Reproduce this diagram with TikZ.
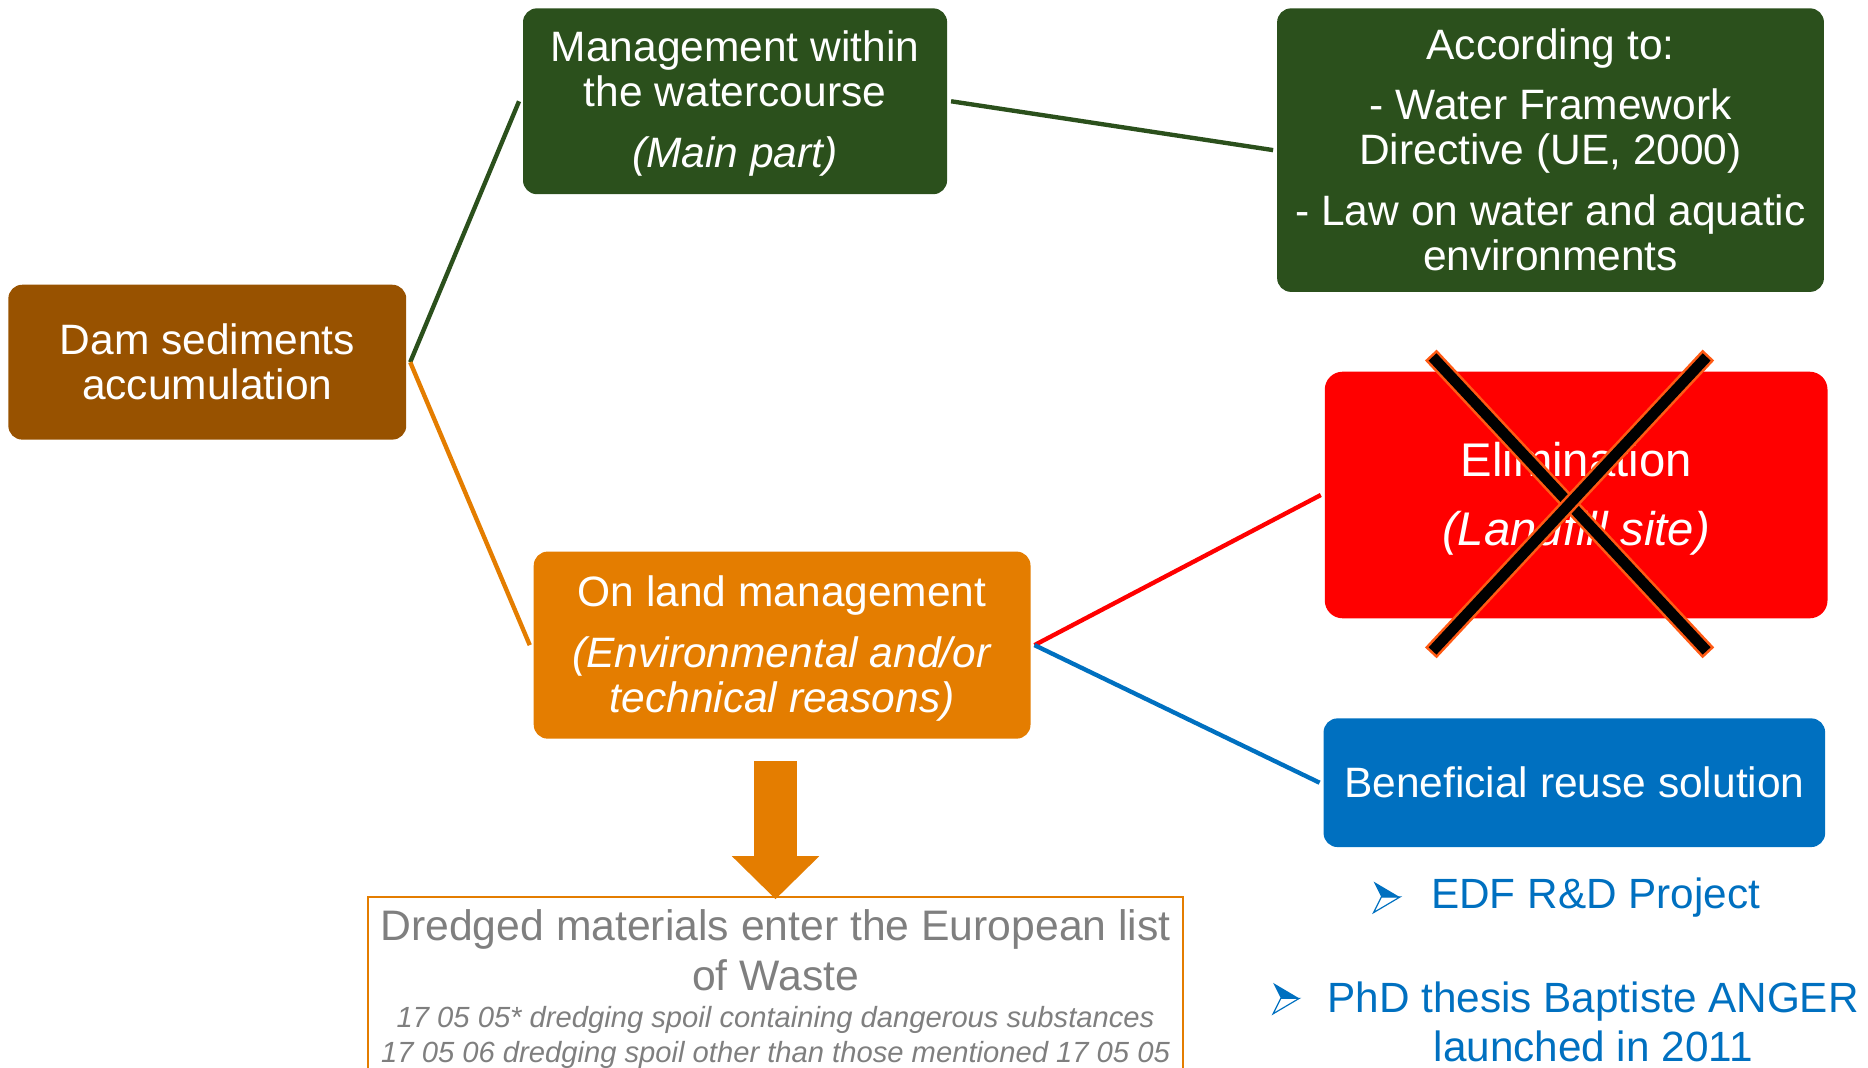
\documentclass[tikz,border=0pt]{standalone}
\usepackage{fontspec}
\setmainfont{Liberation Sans}
\usetikzlibrary{arrows.meta}

\definecolor{damBrown}{RGB}{152,82,0}
\definecolor{riverGreen}{RGB}{43,80,28}
\definecolor{landOrange}{RGB}{228,125,0}
\definecolor{elimRed}{RGB}{255,0,0}
\definecolor{reuseBlue}{RGB}{0,112,192}
\definecolor{crossOrange}{RGB}{255,90,20}
\definecolor{wasteGrey}{RGB}{127,127,127}

\tikzset{
  box/.style={rectangle, rounded corners=7pt, align=center, text=white, inner sep=0pt, outer sep=2pt, font=\fontsize{21.4}{22.8}\selectfont},
  link/.style={line width=2.2pt},
  crossbar/.style={crossOrange, line width=8pt},
  crosscore/.style={black, line width=5.4pt, shorten <=1.3pt, shorten >=1.3pt},
  bulletarrow/.pic={
    \fill [reuseBlue] (-11,13) -- (11,0) -- (-4.5,0) -- cycle;
    \draw [reuseBlue, line width=0.6pt, line join=miter] (-11,-13) -- (11,0) -- (-4.5,0) -- cycle;
  }
}

\begin{document}
\begin{tikzpicture}[x=0.6pt,y=0.6pt,yscale=-1,xscale=1]
\useasboundingbox (0,0) rectangle (1568,896);
\clip (0,0) rectangle (1568,896);

%Rounded Rect: origin of the sediments
\node (dam) at (174,304) [box, fill=damBrown, minimum width=200.4pt, minimum height=78pt] {Dam sediments\\accumulation};
%Rounded Rect: in the river
\node (mgmt) at (617,85) [box, fill=riverGreen, text depth=2.2pt, minimum width=213.6pt, minimum height=93.6pt] {Management within\\the watercourse\\[7.8pt]\textit{(Main part)}};
%Rounded Rect: regulations
\node (law) at (1301.5,126) [box, fill=riverGreen, minimum width=275.4pt, minimum height=142.8pt] {According to:\\[7.2pt]- Water Framework\\Directive (UE, 2000)\\[7.8pt]- Law on water and aquatic\\environments};
%Rounded Rect: on land
\node (land) at (656.5,541.5) [box, fill=landOrange, text depth=0.8pt, minimum width=250.2pt, minimum height=94.2pt] {On land management\\[7.8pt]\textit{(Environmental and/or}\\\textit{technical reasons)}};
%Rounded Rect: landfill
\node (elim) at (1323,415.5) [box, fill=elimRed, text depth=0.8pt, rounded corners=9pt, minimum width=253.2pt, minimum height=124.2pt, font=\fontsize{23.8}{34.8}\selectfont] {Elimination\\\textit{(Landfill site)}};
%Rounded Rect: reuse
\node (reuse) at (1321.5,657) [box, fill=reuseBlue, minimum width=252.6pt, minimum height=64.8pt] {Beneficial reuse solution};
%Rectangle: waste list
\node (waste) at (651,752) [anchor=north, draw=landOrange, line width=0.85pt, minimum width=410.4pt, inner xsep=0pt, inner ysep=6.6pt, align=center, text=wasteGrey, font=\fontsize{21.5}{25.2}\selectfont] {Dredged materials enter the European list\\of Waste\\[-6.6pt]{\fontsize{14.7}{17.4}\selectfont\itshape 17 05 05* dredging spoil containing dangerous substances}\\[-7.8pt]{\fontsize{14.7}{17.4}\selectfont\itshape 17 05 06 dredging spoil other than those mentioned 17 05 05}};

%Straight Lines
\draw [link, riverGreen] (dam.east) -- (mgmt.west);
\draw [link, landOrange] (dam.east) -- (land.west);
\draw [link, riverGreen] (mgmt.east) -- (law.west);
\draw [link, elimRed] (land.east) -- (elim.west);
\draw [link, reuseBlue] (land.east) -- (reuse.west);

%Block arrow down to the waste list
\draw [landOrange, line width=21.3pt, shorten <=9.3pt, shorten >=-1.6pt, -{Triangle[length=21.6pt, width=44pt, line width=0pt]}] (waste.north |- land.south) -- (waste.north);

%Cross over the landfill
\draw [crossbar] (1201,298) -- (1434,548);
\draw [crosscore] (1201,298) -- (1434,548);
\draw [crossbar] (1434,298) -- (1201,548);
\draw [crosscore] (1434,298) -- (1201,548);

% Text Node
\pic at (1164,753) {bulletarrow};
\node (edf) at (1201,753) [anchor=west, inner sep=0pt, text=reuseBlue, font=\fontsize{21.3}{25}\selectfont] {EDF R\&D Project};
% Text Node
\pic at (1079.6,838) {bulletarrow};
\node (phd) at (1114,857.5) [anchor=west, inner sep=0pt, align=center, text=reuseBlue, font=\fontsize{21.3}{24.6}\selectfont] {PhD thesis Baptiste ANGER\\launched in 2011};

\end{tikzpicture}
\end{document}
